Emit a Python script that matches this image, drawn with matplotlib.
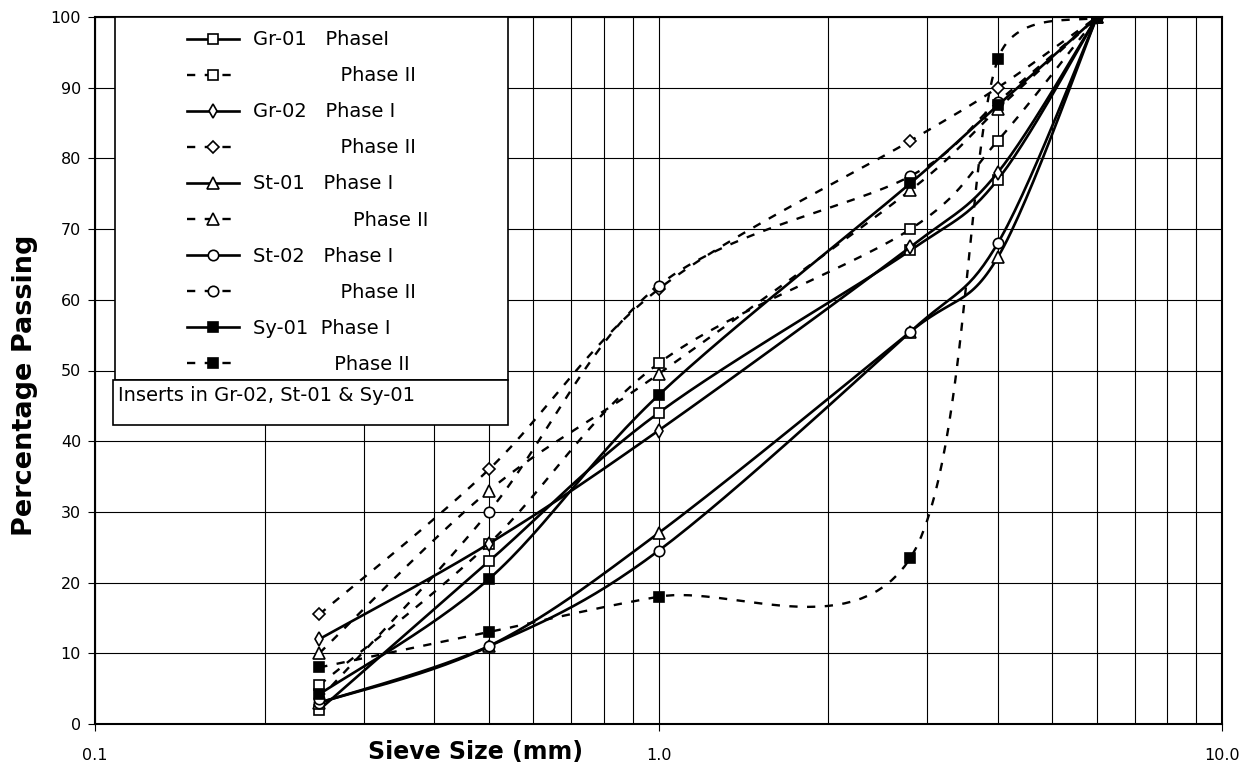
import numpy as np
import matplotlib.pyplot as plt
from matplotlib.patches import Rectangle
from matplotlib.ticker import LogLocator, NullFormatter

plt.rcParams['font.family'] = ['DejaVu Sans']

# sieve sizes (mm) and percentage passing
sieve = [0.25, 0.5, 1.0, 2.8, 4.0, 6.0]

gr01_p1 = [2.0, 23.0, 44.0, 67.0, 77.0, 100.0]
gr01_p2 = [5.5, 25.5, 51.0, 70.0, 82.5, 100.0]
gr02_p1 = [12.0, 25.5, 41.5, 67.5, 78.0, 100.0]
gr02_p2 = [15.5, 36.0, 61.5, 82.5, 90.0, 100.0]
st01_p1 = [3.0, 11.0, 27.0, 55.5, 66.0, 100.0]
st01_p2 = [10.0, 33.0, 49.5, 75.5, 87.0, 100.0]
st02_p1 = [3.0, 11.0, 24.5, 55.5, 68.0, 100.0]
st02_p2 = [3.5, 30.0, 62.0, 77.5, 88.0, 100.0]
sy01_p1 = [4.2, 20.5, 46.5, 76.5, 87.5, 100.0]
sy01_p2 = [8.0, 13.0, 18.0, 23.5, 94.0, 100.0]

series = [gr01_p1, gr01_p2, gr02_p1, gr02_p2, st01_p1,
          st01_p2, st02_p1, st02_p2, sy01_p1, sy01_p2]

labels = ["Gr-01   PhaseI", " " * 14 + "Phase II",
          "Gr-02   Phase I", " " * 14 + "Phase II",
          "St-01   Phase I", " " * 16 + "Phase II",
          "St-02   Phase I", " " * 14 + "Phase II",
          "Sy-01  Phase I", " " * 13 + "Phase II"]

# marker, face colour, marker size
marks = [('s', 'white', 7), ('s', 'white', 7),
         ('d', 'white', 7), ('D', 'white', 6.5),
         ('^', 'white', 8), ('^', 'white', 8),
         ('o', 'white', 7.5), ('o', 'white', 7.5),
         ('s', 'black', 7), ('s', 'black', 7)]

# screen scale used for the smoothing (px per decade, px per percent)
PX_X = 563.5
PX_Y = 7.07


def clamp(v, lim):
    n = np.hypot(v[0], v[1])
    return v * (lim / n) if n > lim else v


def smooth(xs, ys, n=30):
    # excel-like smoothed line: catmull-rom bezier, control arms limited
    # to half the segment so short end segments do not overshoot
    p = np.column_stack([np.log10(xs) * PX_X, np.asarray(ys, float) * PX_Y])
    m = len(p)
    d = np.hypot(*np.diff(p, axis=0).T)
    t = np.linspace(0, 1, n, endpoint=False)[:, None]
    out = []
    for i in range(m - 1):
        p0 = p[max(i - 1, 0)]
        p1, p2 = p[i], p[i + 1]
        p3 = p[min(i + 2, m - 1)]
        c1 = p1 + clamp((p2 - p0) / 6, d[i] / 2)
        c2 = p2 - clamp((p3 - p1) / 6, d[i] / 2)
        out.append((1 - t) ** 3 * p1 + 3 * (1 - t) ** 2 * t * c1
                   + 3 * (1 - t) * t ** 2 * c2 + t ** 3 * p2)
    out.append(p[-1:])
    out = np.vstack(out)
    return 10 ** (out[:, 0] / PX_X), out[:, 1] / PX_Y, list(range(0, len(out), n))


fig = plt.figure(figsize=(12.53, 7.71), dpi=100)
ax = fig.add_axes([95 / 1253, 47 / 771, 1127 / 1253, 707 / 771])

handles = []
for k, ys in enumerate(series):
    xs_s, ys_s, idx = smooth(sieve, ys)
    mk, fc, ms = marks[k]
    if k % 2 == 0:
        ls, lw = '-', 1.9
    else:
        ls, lw = (0, (3.5, 4)), 1.7
    h, = ax.plot(xs_s, ys_s, color='black', lw=lw, linestyle=ls,
                 marker=mk, markevery=idx, ms=ms, mfc=fc, mec='black',
                 mew=1.2, zorder=3)
    handles.append(h)

ax.set_xscale('log')
ax.set_xlim(0.1, 10)
ax.set_ylim(0, 100)
ax.set_xticks([0.1, 1, 10])
ax.set_xticklabels(['0.1', '1.0', '10.0'])
ax.xaxis.set_minor_locator(LogLocator(base=10, subs=range(2, 10)))
ax.xaxis.set_minor_formatter(NullFormatter())
ax.set_yticks(range(0, 101, 10))
ax.tick_params(axis='x', which='major', length=5, pad=12, labelsize=11.5)
ax.tick_params(axis='x', which='minor', length=0)
ax.tick_params(axis='y', length=5, pad=5, labelsize=11.5)

ax.grid(True, axis='x', which='both', color='black', lw=0.8)
ax.grid(True, axis='y', which='major', color='black', lw=0.8)
for s in ax.spines.values():
    s.set_linewidth(1.5)

ax.set_xlabel('Sieve Size (mm)', fontsize=17, fontweight='bold')
ax.xaxis.set_label_coords(0.338, -0.04)
ax.xaxis.label.set_va('center')
ax.set_ylabel('Percentage Passing', fontsize=19.5, fontweight='bold')
ax.yaxis.set_label_coords(-0.062, 0.4795)
ax.yaxis.label.set_va('center')

# legend frame and the notes box beneath it
ax.add_patch(Rectangle((0.0178, 0.4866), 0.3487, 0.5134, transform=ax.transAxes,
                       fc='white', ec='black', lw=1.2, zorder=4))
ax.add_patch(Rectangle((0.0160, 0.4229), 0.3505, 0.0637, transform=ax.transAxes,
                       fc='white', ec='black', lw=1.2, zorder=4))
ax.text(0.0204, 0.4653, 'Inserts in Gr-02, St-01 & Sy-01', transform=ax.transAxes,
        ha='left', va='center', fontsize=14, zorder=6)

leg = ax.legend(handles, labels, loc='upper left', bbox_to_anchor=(0.0816, 0.981),
                frameon=False, borderpad=0, borderaxespad=0, handlelength=2.67,
                handletextpad=0.72, labelspacing=0.875, fontsize=14, numpoints=1)
leg.set_zorder(6)

fig.savefig('out.png', dpi=100)
